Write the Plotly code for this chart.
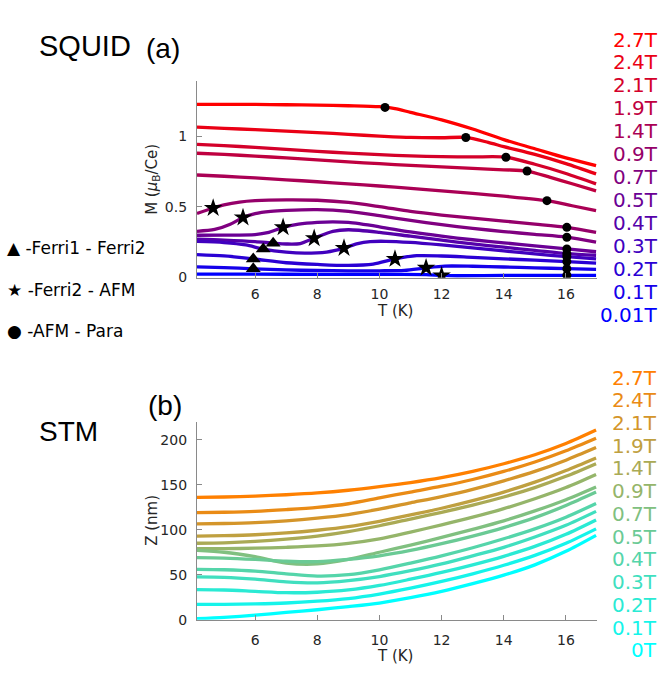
import numpy as np
import plotly.graph_objects as go

# ---------------- SQUID data (M in muB/Ce vs T in K) ----------------
fields_top = ["2.7T", "2.4T", "2.1T", "1.9T", "1.4T", "0.9T", "0.7T", "0.5T", "0.4T", "0.3T", "0.2T", "0.1T", "0.01T"]

m27_T = [4.13, 5, 6, 7, 8, 9, 10, 10.5, 11, 12, 13, 14, 15, 16, 16.97]
m27 = [1.225, 1.225, 1.224, 1.222, 1.219, 1.215, 1.208, 1.195, 1.168, 1.115, 1.05, 0.975, 0.91, 0.845, 0.79]
m24_T = [4.13, 5, 6, 7, 8, 9, 10, 11, 12, 12.78, 13.5, 14, 15, 16, 16.97]
m24 = [1.063, 1.055, 1.045, 1.035, 1.025, 1.012, 1.0, 0.99, 0.988, 0.99, 0.955, 0.925, 0.87, 0.805, 0.732]
m21_T = [4.13, 5, 6, 7, 8, 9, 10, 11, 12, 13, 14.07, 15, 16, 16.97]
m21 = [0.941, 0.932, 0.92, 0.906, 0.892, 0.879, 0.868, 0.859, 0.854, 0.852, 0.85, 0.8, 0.735, 0.661]
m19_T = [4.13, 5, 6, 7, 8, 9, 10, 11, 12, 13, 14, 14.75, 15.5, 16.2, 16.97]
m19 = [0.878, 0.87, 0.858, 0.845, 0.831, 0.817, 0.804, 0.792, 0.781, 0.771, 0.761, 0.752, 0.707, 0.662, 0.612]
m14_T = [4.13, 5, 6, 7, 8, 9, 10, 11, 12, 13, 14, 15.39, 16.2, 16.97]
m14 = [0.724, 0.715, 0.703, 0.69, 0.676, 0.661, 0.646, 0.629, 0.611, 0.593, 0.574, 0.542, 0.506, 0.472]
m09_T = [4.13, 4.65, 5, 5.5, 6, 7, 8, 9, 10, 11, 12, 13, 14, 15, 16.03, 16.97]
m09 = [0.451, 0.49, 0.512, 0.532, 0.542, 0.548, 0.545, 0.53, 0.5, 0.466, 0.44, 0.418, 0.397, 0.376, 0.353, 0.318]
m07_T = [4.13, 4.7, 5.2, 5.61, 6, 6.5, 7, 8, 9, 10, 11, 12, 13, 14, 15, 16.03, 16.97]
m07 = [0.325, 0.338, 0.375, 0.423, 0.45, 0.466, 0.473, 0.478, 0.466, 0.436, 0.402, 0.372, 0.346, 0.323, 0.303, 0.283, 0.248]
m05_T = [4.13, 5, 6, 6.4, 6.9, 7.4, 8, 8.5, 9, 10, 11, 12, 13, 14, 15, 16.03, 16.97]
m05 = [0.297, 0.298, 0.302, 0.315, 0.353, 0.375, 0.388, 0.392, 0.388, 0.357, 0.32, 0.29, 0.265, 0.243, 0.222, 0.2, 0.18]
m04_T = [4.13, 5, 6, 6.58, 7, 7.45, 7.9, 8.5, 9, 10, 11, 12, 13, 14, 15, 16.03, 16.97]
m04 = [0.269, 0.263, 0.252, 0.241, 0.235, 0.238, 0.276, 0.325, 0.336, 0.318, 0.29, 0.262, 0.236, 0.212, 0.19, 0.167, 0.155]
m03_T = [4.13, 5, 5.7, 6.26, 7, 7.6, 8.3, 8.86, 9.3, 9.7, 10.2, 11, 12, 13, 14, 15, 16.03, 16.97]
m03 = [0.253, 0.245, 0.228, 0.199, 0.177, 0.17, 0.178, 0.206, 0.238, 0.252, 0.254, 0.246, 0.228, 0.207, 0.186, 0.165, 0.145, 0.13]
m02_T = [4.13, 5, 5.94, 7, 8, 9, 9.8, 10.5, 11.2, 12, 13, 14, 15, 16.03, 16.97]
m02 = [0.16, 0.15, 0.129, 0.102, 0.09, 0.083, 0.092, 0.129, 0.152, 0.15, 0.14, 0.13, 0.12, 0.11, 0.1]
m01_T = [4.13, 5, 5.94, 7, 8, 9, 10, 10.8, 11.5, 12.1, 13, 14, 15, 16.03, 16.97]
m01 = [0.073, 0.068, 0.059, 0.051, 0.047, 0.045, 0.045, 0.048, 0.066, 0.078, 0.077, 0.072, 0.066, 0.06, 0.055]
m001_T = [4.13, 6, 8, 10, 11.5, 12, 12.5, 14, 16.03, 16.97]
m001 = [0.022, 0.021, 0.02, 0.019, 0.018, 0.012, 0.01, 0.012, 0.013, 0.013]

top_T = [m27_T, m24_T, m21_T, m19_T, m14_T, m09_T, m07_T, m05_T, m04_T, m03_T, m02_T, m01_T, m001_T]
top_M = [m27, m24, m21, m19, m14, m09, m07, m05, m04, m03, m02, m01, m001]

# transition markers: temperature and the field curve they sit on
tri_T = [5.94, 5.94, 6.26, 6.58]
tri_field = ["0.1T", "0.2T", "0.3T", "0.4T"]
star_T = [4.65, 5.61, 6.9, 7.9, 8.86, 10.5, 11.5, 12.0]
star_field = ["0.9T", "0.7T", "0.5T", "0.4T", "0.3T", "0.2T", "0.1T", "0.01T"]
dot_T = [10.18, 12.78, 14.07, 14.75, 15.39, 16.03, 16.03, 16.03, 16.03, 16.03, 16.03, 16.03, 16.03]
dot_field = ["2.7T", "2.4T", "2.1T", "1.9T", "1.4T", "0.9T", "0.7T", "0.5T", "0.4T", "0.3T", "0.2T", "0.1T", "0.01T"]

# ---------------- STM data (Z in nm vs T in K) ----------------
fields_bot = ["2.7T", "2.4T", "2.1T", "1.9T", "1.4T", "0.9T", "0.7T", "0.5T", "0.4T", "0.3T", "0.2T", "0.1T", "0T"]
z_T = [4.13, 5, 6, 7, 8, 9, 10, 11, 12, 13, 14, 15, 16, 16.97]
z27 = [136, 136.5, 137.5, 139, 141, 144, 148, 152.5, 158, 165, 173.5, 183.5, 196, 211]
z24 = [119, 119.5, 120.5, 122.5, 125, 129, 135.5, 142, 148.5, 156, 165, 175.5, 188, 202]
z21 = [106.5, 107, 108, 110, 113, 117, 123, 130, 137, 145, 154.5, 165, 177.5, 191.5]
z19 = [93, 93.5, 94.5, 96.5, 99.5, 103.5, 109.5, 116.5, 124, 132.5, 142, 153, 166, 180]
z14 = [85, 85.5, 87, 89.5, 93, 98, 104.5, 112, 119.5, 127.5, 136.5, 147, 159.5, 173.6]
z09 = [79, 79, 79.5, 80.5, 82, 85, 90, 97.5, 105.5, 114, 123.5, 134.5, 147, 161.5]
z07 = [77, 75, 70, 63, 62, 67, 75, 83, 91.5, 100.5, 110, 121, 133.5, 147.6]
z05 = [69, 68.5, 67, 65, 64.5, 67, 71, 77, 84.5, 93, 102.5, 113.5, 127, 142]
z04 = [56, 55.5, 54, 51, 48.5, 50, 55.5, 63, 71, 80, 90, 101, 114, 129.3]
z03 = [47.5, 47, 45, 42, 41, 43.5, 48, 54.5, 62, 71, 80.5, 92, 105, 120.5]
z02 = [33.5, 33, 31.5, 30, 30.5, 33, 38, 45, 52.5, 61, 70.5, 81.5, 95, 111]
z01 = [17, 17, 17.5, 18.5, 20.5, 23.5, 28.5, 35, 42.5, 51, 60.5, 71.5, 85, 101]
z00 = [1, 2.5, 5, 8, 11, 14.5, 18.5, 24.5, 31.5, 40, 49.5, 61, 76, 93.8]
bot_Z = [z27, z24, z21, z19, z14, z09, z07, z05, z04, z03, z02, z01, z00]

x_ticks = [6, 8, 10, 12, 14, 16]
top_yticks = [0, 0.5, 1]
bot_yticks = [0, 50, 100, 150, 200]

# ---------------- styling ----------------
W, H = 661, 681
n = len(fields_top)
top_colors = [f"rgb({round(255*(1-i/(n-1)))},0,{round(255*i/(n-1))})" for i in range(n)]
bot_colors = [f"rgb({round(255*(1-i/(n-1)))},{round(128+127*i/(n-1))},{round(255*i/(n-1))})" for i in range(n)]

X0, X1 = 197, 597
TOP_Y0, TOP_Y1 = 82, 281
BOT_Y0, BOT_Y1 = 427, 627
FONT = "DejaVu Sans"
AX = "#8a8a8a"
TXT = "#262626"

fig = go.Figure()

for i in range(n):
    fig.add_trace(go.Scatter(x=top_T[i], y=top_M[i], mode="lines",
                             line=dict(color=top_colors[i], width=3.3, shape="spline", smoothing=0.8),
                             xaxis="x", yaxis="y", showlegend=False, hoverinfo="skip"))

def on_curve(T, field):
    k = fields_top.index(field)
    return float(np.interp(T, top_T[k], top_M[k]))

tri_M = [on_curve(t, f) for t, f in zip(tri_T, tri_field)]
star_M = [on_curve(t, f) for t, f in zip(star_T, star_field)]
dot_M = [on_curve(t, f) for t, f in zip(dot_T, dot_field)]

fig.add_trace(go.Scatter(x=dot_T, y=dot_M, mode="markers", marker=dict(symbol="circle", size=9, color="black"),
                         xaxis="x", yaxis="y", showlegend=False, hoverinfo="skip"))
fig.add_trace(go.Scatter(x=star_T, y=star_M, mode="markers", marker=dict(symbol="star", size=14, color="black"),
                         xaxis="x", yaxis="y", showlegend=False, hoverinfo="skip"))
fig.add_trace(go.Scatter(x=tri_T, y=tri_M, mode="markers", marker=dict(symbol="triangle-up", size=13, color="black"),
                         xaxis="x", yaxis="y", showlegend=False, hoverinfo="skip"))

for i in range(n):
    fig.add_trace(go.Scatter(x=z_T, y=bot_Z[i], mode="lines",
                             line=dict(color=bot_colors[i], width=3.3, shape="spline", smoothing=0.8),
                             xaxis="x2", yaxis="y2", showlegend=False, hoverinfo="skip"))

def px_x(p):
    return p / W

def px_y(p):
    return 1 - p / H

axis_common = dict(showline=True, linecolor=AX, linewidth=1.2, ticks="inside", ticklen=5, tickcolor=AX,
                   showgrid=False, zeroline=False, tickfont=dict(family=FONT, size=14, color=TXT))

fig.update_layout(
    width=W, height=H, margin=dict(l=0, r=0, t=0, b=0),
    paper_bgcolor="white", plot_bgcolor="white",
    xaxis=dict(domain=[px_x(X0), px_x(X1)], range=[4.13, 17.0], tickvals=x_ticks, anchor="y",
               ticklabelstandoff=3, **axis_common),
    yaxis=dict(domain=[px_y(TOP_Y1), px_y(TOP_Y0)], range=[-0.004, 1.39], tickvals=top_yticks,
               ticktext=["0", "0.5", "1"], anchor="x", ticklabelstandoff=6, **axis_common),
    xaxis2=dict(domain=[px_x(X0), px_x(X1)], range=[4.13, 17.0], tickvals=x_ticks, anchor="y2",
                ticklabelstandoff=7, **axis_common),
    yaxis2=dict(domain=[px_y(BOT_Y1), px_y(BOT_Y0)], range=[0, 220], tickvals=bot_yticks, anchor="x2",
                ticklabelstandoff=6, **axis_common),
)

ann = []
def text(x, y, s, size, color=TXT, family=FONT, xanchor="left", angle=0):
    ann.append(dict(x=px_x(x), y=px_y(y), xref="paper", yref="paper", text=s, showarrow=False,
                    font=dict(family=family, size=size, color=color), xanchor=xanchor, yanchor="middle",
                    textangle=angle))

# titles
text(37, 47, "SQUID", 29, color="black", family="Liberation Sans")
text(144, 49, "(a)", 28, color="black", family="Liberation Sans")
text(37, 437, "STM", 28, color="black", family="Liberation Sans")
text(146, 410, "(b)", 28, color="black", family="Liberation Sans")

# axis titles
text(395, 315, "T (K)", 15, xanchor="center")
text(395, 664, "T (K)", 15, xanchor="center")
text(153, 182, "M (<i>μ</i><sub>B</sub>/Ce)", 15, xanchor="center", angle=-90)
text(152, 527, "Z (nm)", 15, xanchor="center", angle=-90)

# marker legend
text(5, 251, "▲ -Ferri1 - Ferri2", 17, color="black")
text(5, 293, "★ -Ferri2 - AFM", 17, color="black")
text(5, 335, "● -AFM - Para", 17, color="black")

# field labels
for i, f in enumerate(fields_top):
    text(660, 40 + i * 23.2, f, 20, color=top_colors[i], xanchor="right")
for i, f in enumerate(fields_bot):
    text(659, 382 + i * 23.0, f, 20, color=bot_colors[i], xanchor="right")

fig.update_layout(annotations=ann)
fig.write_html("out.html", config={"displayModeBar": False},
               post_script="document.body.style.margin='0';document.body.style.overflow='hidden';")
